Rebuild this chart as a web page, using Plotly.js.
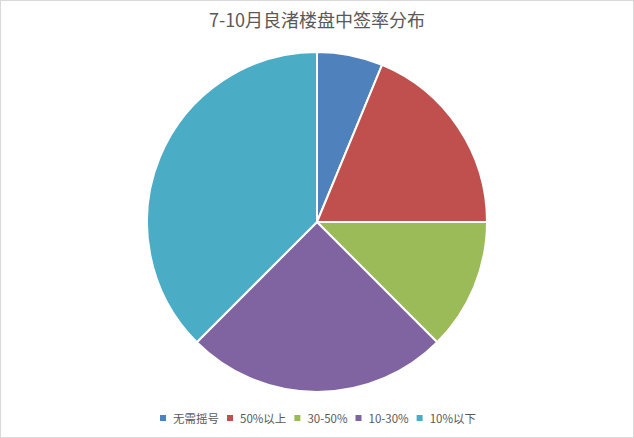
<!DOCTYPE html>
<html>
<head>
<meta charset="utf-8">
<script src="https://cdn.plot.ly/plotly-3.0.1.min.js"></script>
<style>
  html, body { margin: 0; padding: 0; background: #fff; }
  #chart { width: 634px; height: 438px; box-sizing: border-box; border: 1px solid #d9d9d9; }
</style>
</head>
<body>
<div id="chart"></div>
<script>
const labels = ['无需摇号', '50%以上', '30-50%', '10-30%', '10%以下'];
const counts = [1, 3, 2, 4, 6];
const colors = ['#4F81BD', '#C0504D', '#9BBB59', '#8064A2', '#4BACC6'];

const font = '"Noto Sans CJK SC", "Open Sans", sans-serif';

// pack legend items tighter (Excel-style: small square, short gap)
const tightenLegend = function (gd) {
  const legend = gd.querySelector('.legend');
  if (!legend) return;
  const m = /translate\(([-\d.]+)[ ,]+([-\d.]+)\)/.exec(legend.getAttribute('transform') || '');
  const lx = m ? parseFloat(m[1]) : 0;
  const items = Array.from(legend.querySelectorAll('.traces'));
  const widths = items.map(function (tr) {
    return tr.querySelector('text.legendtext').getComputedTextLength();
  });
  const markerGap = 10, itemGap = 11;
  let total = 3;
  widths.forEach(function (w, i) {
    total += markerGap + w + (i < widths.length - 1 ? itemGap : 0);
  });
  let x = (634 - total) / 2 + 3; // global x of first marker centre
  items.forEach(function (tr, i) {
    const tm = /translate\(([-\d.]+)[ ,]+([-\d.]+)\)/.exec(tr.getAttribute('transform') || '');
    const ty = tm ? parseFloat(tm[2]) : 0;
    tr.setAttribute('transform', 'translate(' + (x - lx - 20) + ',' + ty + ')');
    tr.querySelectorAll('.legendpoints path').forEach(function (p) {
      p.setAttribute('d', 'M3,3H-3V-3H3Z');
      p.style.strokeWidth = '0';
    });
    tr.querySelector('text.legendtext').setAttribute('x', 20 + markerGap);
    x += markerGap + widths[i] + itemGap;
  });
};

Plotly.newPlot('chart', [{
  type: 'pie',
  labels: labels,
  values: counts,
  sort: false,
  direction: 'clockwise',
  rotation: 0,
  textinfo: 'none',
  hoverinfo: 'label+value+percent',
  marker: { colors: colors, line: { color: '#fff', width: 2 } }
}], {
  width: 632,
  height: 436,
  margin: { l: 0, r: 0, t: 51, b: 45 },
  paper_bgcolor: '#fff',
  font: { family: font, color: '#595959' },
  title: {
    text: '7-10月良渚楼盘中签率分布',
    font: { size: 18, color: '#595959', family: font },
    x: 0.5, xanchor: 'center',
    y: 1 - 20 / 436, yanchor: 'middle', yref: 'container'
  },
  showlegend: true,
  legend: {
    orientation: 'h',
    x: 0.5, xanchor: 'center',
    y: 1 - 417 / 436, yanchor: 'middle', yref: 'container',
    bgcolor: 'rgba(0,0,0,0)',
    font: { size: 11.5, color: '#595959', family: font },
    itemwidth: 30,
    traceorder: 'normal'
  }
}, { displayModeBar: false }).then(tightenLegend);
</script>
</body>
</html>
